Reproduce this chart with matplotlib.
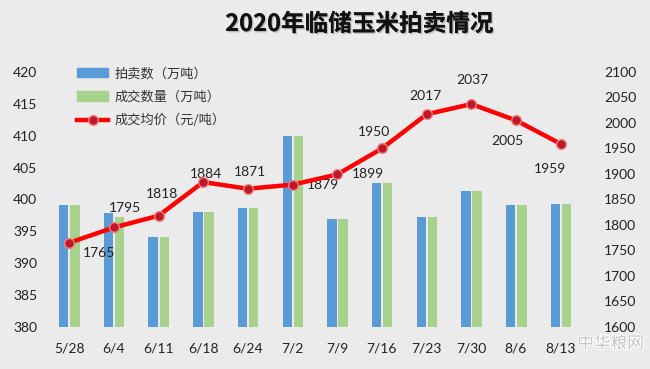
import matplotlib
matplotlib.use("Agg")
import matplotlib.pyplot as plt
import numpy as np
from matplotlib.lines import Line2D
from matplotlib.patches import Patch
import matplotlib.patheffects as pe

plt.rcParams['font.family'] = ['Lato', 'Noto Sans CJK SC', 'DejaVu Sans']

dates = ["5/28", "6/4", "6/11", "6/18", "6/24", "7/2", "7/9", "7/16", "7/23", "7/30", "8/6", "8/13"]
auction = [399.1, 397.8, 394.1, 398.0, 398.7, 410.0, 396.9, 402.6, 397.3, 401.4, 399.1, 399.3]
traded = [399.1, 397.2, 394.1, 398.0, 398.7, 410.0, 396.9, 402.6, 397.3, 401.4, 399.1, 399.3]
price = [1765, 1795, 1818, 1884, 1871, 1879, 1899, 1950, 2017, 2037, 2005, 1959]
label_offsets = [(21.6, -7.2), (8, 14), (2.4, 15.6), (2, 5.5), (1.7, 12), (22, 0), (22, 0),
                 (-5.5, 11.5), (-0.7, 13.2), (0.5, 17.5), (-6.5, -14.9), (-7.6, -18)]

bg = "#ebebeb"
fig = plt.figure(figsize=(6.5, 3.69), dpi=100, facecolor=bg)
ax = fig.add_axes([0.072, 0.114, 0.825, 0.691])
ax.set_facecolor(bg)
x = np.arange(len(dates))
w = 0.21
ax.bar(x - 0.12, auction, width=w, color="#5b9bd5", zorder=2)
ax.bar(x + 0.13, traded, width=w, color="#a9d18e", zorder=2)
ax.set_ylim(380, 420)
ax.set_xlim(-0.5, len(dates) - 0.5)
ax.set_yticks(np.arange(380, 421, 5))
ax.set_xticks(x)
ax.set_xticklabels(dates)
for s in ax.spines.values():
    s.set_visible(False)
ax.axhline(380, color="white", lw=1, zorder=1)
ax.tick_params(axis='both', length=0, labelsize=10, colors="#222222")
ax.tick_params(axis='y', pad=7)
ax.tick_params(axis='x', pad=11)

ax2 = ax.twinx()
ax2.set_ylim(1600, 2100)
ax2.set_yticks(np.arange(1600, 2101, 50))
for s in ax2.spines.values():
    s.set_visible(False)
ax2.tick_params(axis='y', length=0, labelsize=10, pad=15, colors="#222222")
ax2.plot(x, price, color="#ff0000", lw=3.2, marker="o", markersize=7,
         markerfacecolor="#c0182a", markeredgecolor="#f08080", markeredgewidth=1, zorder=5)
for xi, p, off in zip(x, price, label_offsets):
    ax2.annotate(str(p), (xi, p), xytext=off, textcoords="offset points",
                 ha="center", va="center", fontsize=10, color="#222222")

fig.text(0.553, 0.935, "2020年临储玉米拍卖情况", ha="center", va="center",
         fontsize=17, fontweight="bold", family=['Noto Sans CJK SC'], color="#111111",
         path_effects=[pe.withSimplePatchShadow(offset=(1, -1), shadow_rgbFace="#888888", alpha=0.5),
                       pe.Normal()])

handles = [Patch(color="#5b9bd5"), Patch(color="#a9d18e"),
           Line2D([], [], color="#ff0000", lw=3.2, marker="o", markersize=7,
                  markerfacecolor="#c0182a", markeredgecolor="#f08080")]
labels = ["拍卖数（万吨）", "成交数量（万吨）", "成交均价（元/吨）"]
leg = ax.legend(handles, labels, loc="upper left", bbox_to_anchor=(0.035, 1.065),
                frameon=False, prop={'family': 'Noto Sans CJK SC', 'size': 9.5},
                handlelength=2.3, handleheight=0.7, labelspacing=0.78, handletextpad=0.5)
for t in leg.get_texts():
    t.set_color("#333333")

fig.text(0.888, 0.068, "中华粮网", ha="left", va="center", fontsize=12,
         color="#c4c4c4", family=['Noto Sans CJK SC'],
         path_effects=[pe.withStroke(linewidth=1.5, foreground="white")])

fig.savefig("out.png", dpi=100, facecolor=bg)
